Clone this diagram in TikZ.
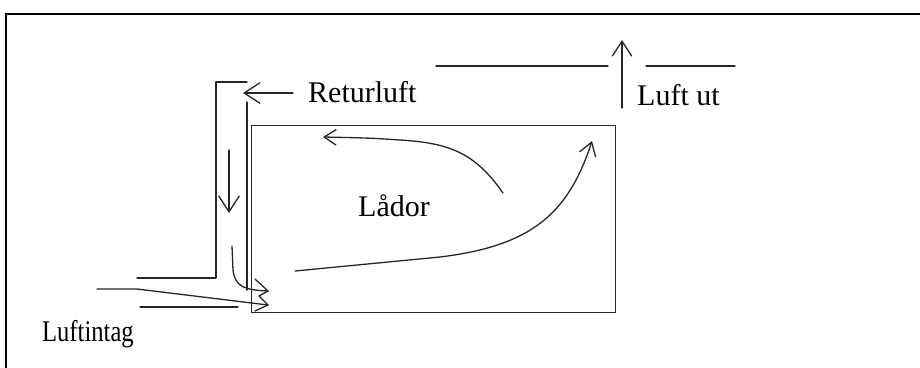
\documentclass[tikz,border=0pt]{standalone}
\usepackage{fontspec}
\setmainfont{Liberation Serif}
\usetikzlibrary{arrows.meta}
\tikzset{
  pen/.style={line width=1.3pt, draw=black!85, line cap=round, line join=round},
  framepen/.style={line width=2.6pt, draw=black},
  lbl/.style={inner sep=0pt, anchor=base west, font=\fontsize{30}{32}\selectfont},
  barb/.style={-{Straight Barb[length=#1, width=#1*1.3]}},
}
\begin{document}
\begin{tikzpicture}[x=1pt, y=-1pt]
\useasboundingbox (0,0) rectangle (920,367);

% outer frame (open to the right and bottom)
\draw[framepen] (6,368) -- (6,14) -- (921,14);

% storage box
\node[draw=black!85, line width=1.4pt, minimum width=364pt, minimum height=187pt,
      inner sep=0pt, anchor=north west] (box) at (251,125) {};

% return-air duct
\coordinate (dTopL) at (216,82);
\coordinate (dTopR) at (247,82);
\coordinate (dBotL) at (216,278);
\coordinate (dIn) at (247,102);
\coordinate (dInB) at (247,290);
\coordinate (shelfL) at (137,278);
\draw[pen] (shelfL) -- (dBotL) -- (dTopL) -- (dTopR);
\draw[pen] (dIn) -- (dInB);

% intake walls
\coordinate (lowL) at (140,307);
\coordinate (lowR) at (238,307);
\draw[pen] (lowL) -- (lowR);

% return-air arrow
\coordinate (retS) at (293,93);
\coordinate (retT) at (243,93);
\draw[pen, barb=16pt] (retS) -- (retT);

% downward flow in duct
\coordinate (downS) at (229,150);
\coordinate (downT) at (229,213);
\draw[pen, barb=16pt] (downS) -- (downT);

% duct flow turning into the box
\coordinate (ductS) at (232,246);
\coordinate (tipA) at (268,291);
\draw[pen] (ductS) -- (233,270) .. controls (235,287) and (245,290) .. (tipA);

% intake flow
\coordinate (inS) at (97,289);
\coordinate (inK) at (137,289);
\coordinate (tipB) at (268,305);
\draw[pen] (inS) -- (inK) -- (tipB);

% the two overlapping arrow heads
\draw[pen] (255,279) -- (tipA) -- (259,296) -- (tipB) -- (255,311);

% exhaust
\coordinate (exL1) at (436,66);
\coordinate (exR1) at (608,66);
\coordinate (exL2) at (646,66);
\coordinate (exR2) at (735,66);
\draw[pen] (exL1) -- (exR1);
\draw[pen] (exL2) -- (exR2);
\coordinate (upS) at (622,108);
\coordinate (upT) at (622,40);
\draw[pen, barb=15pt] (upS) -- (upT);

% circulation inside the box
\coordinate (c1S) at (503,193);
\coordinate (c1T) at (323,137);
\draw[pen, barb=12pt] (c1S) .. controls (475,153) and (450,143) .. (400,140)
      .. controls (370,138) .. (c1T);
\coordinate (c2S) at (295,271);
\coordinate (c2T) at (592,141);
\draw[pen, barb=13pt] (c2S) -- (440,257) .. controls (530,246) and (568,215) .. (c2T);

% labels
\node[lbl] (ret) at (308,102) {Returluft};
\node[lbl] (lad) at (358,216) {Lådor};
\node[lbl] (ut) at (637,105) {Luft ut};
\node[lbl, xscale=0.82] (intag) at (42,341) {Luftintag};
\end{tikzpicture}
\end{document}
